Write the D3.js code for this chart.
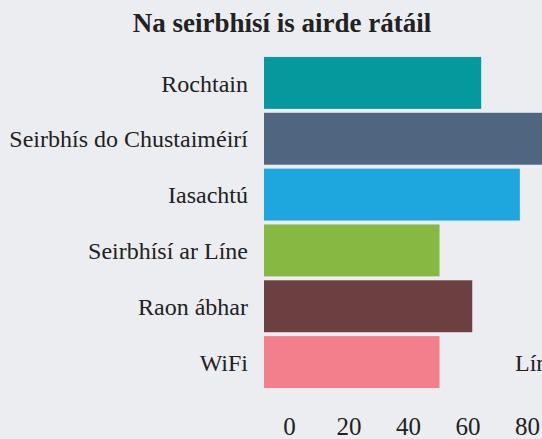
<!DOCTYPE html>
<html><head><meta charset="utf-8">
<script src="https://cdn.jsdelivr.net/npm/d3@7/dist/d3.min.js"></script>
<style>
html,body{margin:0;padding:0;background:#ecedf1;overflow:hidden}
svg{display:block}
text{font-family:"Liberation Serif","DejaVu Serif",serif;fill:#222}
</style></head><body>
<svg id="c" width="542" height="439"></svg>
<script>
const categories = ["Rochtain","Seirbhís do Chustaiméirí","Iasachtú","Seirbhísí ar Líne","Raon ábhar","WiFi"];
const values = [73, 96, 86, 59, 70, 59];
const colors = ["#05989c","#4f6580","#1ea7de","#86b842","#6c3f41","#f27f8b"];
const tickValues = [0,20,40,60,80,100];
const title = "Na seirbhísí is airde rátáil";
const legendLabel = "Líne";

const svg = d3.select("#c");
svg.append("rect").attr("width",542).attr("height",439).attr("fill","#ecedf1");

const x = d3.scaleLinear().domain([0,100]).range([264, 264+297.5]);
const y = d3.scaleBand().domain(categories).range([55,390]).paddingInner(0.07).paddingOuter(0.035);

svg.append("text").attr("x",282).attr("y",32).attr("text-anchor","middle")
  .style("font-weight","bold").style("font-size","27px").text(title);

svg.selectAll("rect.bar").data(categories).enter().append("rect").attr("class","bar")
  .attr("x",x(0)).attr("y",d=>y(d)).attr("height",y.bandwidth())
  .attr("width",(d,i)=>x(values[i])-x(0)).attr("fill",(d,i)=>colors[i]);

svg.selectAll("text.lab").data(categories).enter().append("text").attr("class","lab")
  .attr("x",248).attr("y",d=>y(d)+y.bandwidth()/2).attr("dy","0.36em")
  .attr("text-anchor","end").style("font-size","24px").text(d=>d);

const axis = d3.axisBottom(x).tickValues(tickValues).tickSize(0).tickPadding(0);
const g = svg.append("g").attr("transform","translate(25,417)").call(axis);
g.select(".domain").remove();
g.selectAll("text").attr("dy","0.72em").style("font-size","25px")
  .style("font-family",'"Liberation Serif","DejaVu Serif",serif').attr("fill","#222");

svg.append("text").attr("x",515).attr("y",371).style("font-size","24px").text(legendLabel);
</script>
</body></html>
